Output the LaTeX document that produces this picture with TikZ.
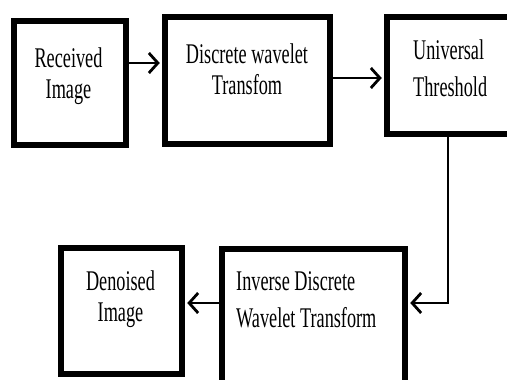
\documentclass[tikz,border=0pt]{standalone}
\usepackage{fontspec}
\setmainfont[FakeStretch=0.64]{Liberation Serif}
\usetikzlibrary{arrows.meta}
\begin{document}
\begin{tikzpicture}[x=1pt,y=-1pt,
  block/.style={draw=black,line width=5.5pt,inner sep=0pt,fill=white},
  caption/.style={font=\fontsize{28.5}{31}\selectfont,inner sep=0pt,anchor=base},
  wide/.style={font=\fontsize{28.5}{36.5}\selectfont},
  link/.style={line width=2.8pt,shorten >=2.5pt,
    -{Straight Barb[length=9pt,width=20pt,line width=2.8pt]}}]
  \useasboundingbox (0,0) rectangle (507,380);
  \clip (0,0) rectangle (507,380);

  % processing blocks
  \node[block,minimum width=112pt,minimum height=124pt] (b1) at (70,83) {};
  \node[block,minimum width=165pt,minimum height=127pt] (b2) at (247.5,80.5) {};
  \node[block,minimum width=143pt,minimum height=117pt] (b3) at (458.5,75.5) {};
  \node[block,minimum width=183pt,minimum height=141pt] (b4) at (313.5,319.5) {};
  \node[block,minimum width=121pt,minimum height=126pt] (b5) at (121.5,311) {};

  % block captions (anchored at the baseline of their last line)
  \node[caption,align=center] (t1) at (68.5,98) {Received\\Image};
  \node[caption,align=center] (t2) at (247,94) {Discrete wavelet\\Transfom};
  \node[caption,wide,align=left,anchor=base west] (t3) at (413,96) {Universal\\Threshold};
  \node[caption,wide,align=left,anchor=base west] (t4) at (236,327) {Inverse Discrete\\Wavelet Transform};
  \node[caption,align=center] (t5) at (120.5,321) {Denoised\\Image};

  % connector rows
  \coordinate (r1) at (0,63);
  \coordinate (r2) at (0,78);
  \coordinate (drop) at (448,303);

  \draw[link] (b1.east |- r1) -- (b2.west |- r1);
  \draw[link] (b2.east |- r2) -- (b3.west |- r2);
  \draw[link] (b3.south -| drop) |- (b4.east |- drop);
  \draw[link] (b4.west |- drop) -- (b5.east |- drop);
\end{tikzpicture}
\end{document}
